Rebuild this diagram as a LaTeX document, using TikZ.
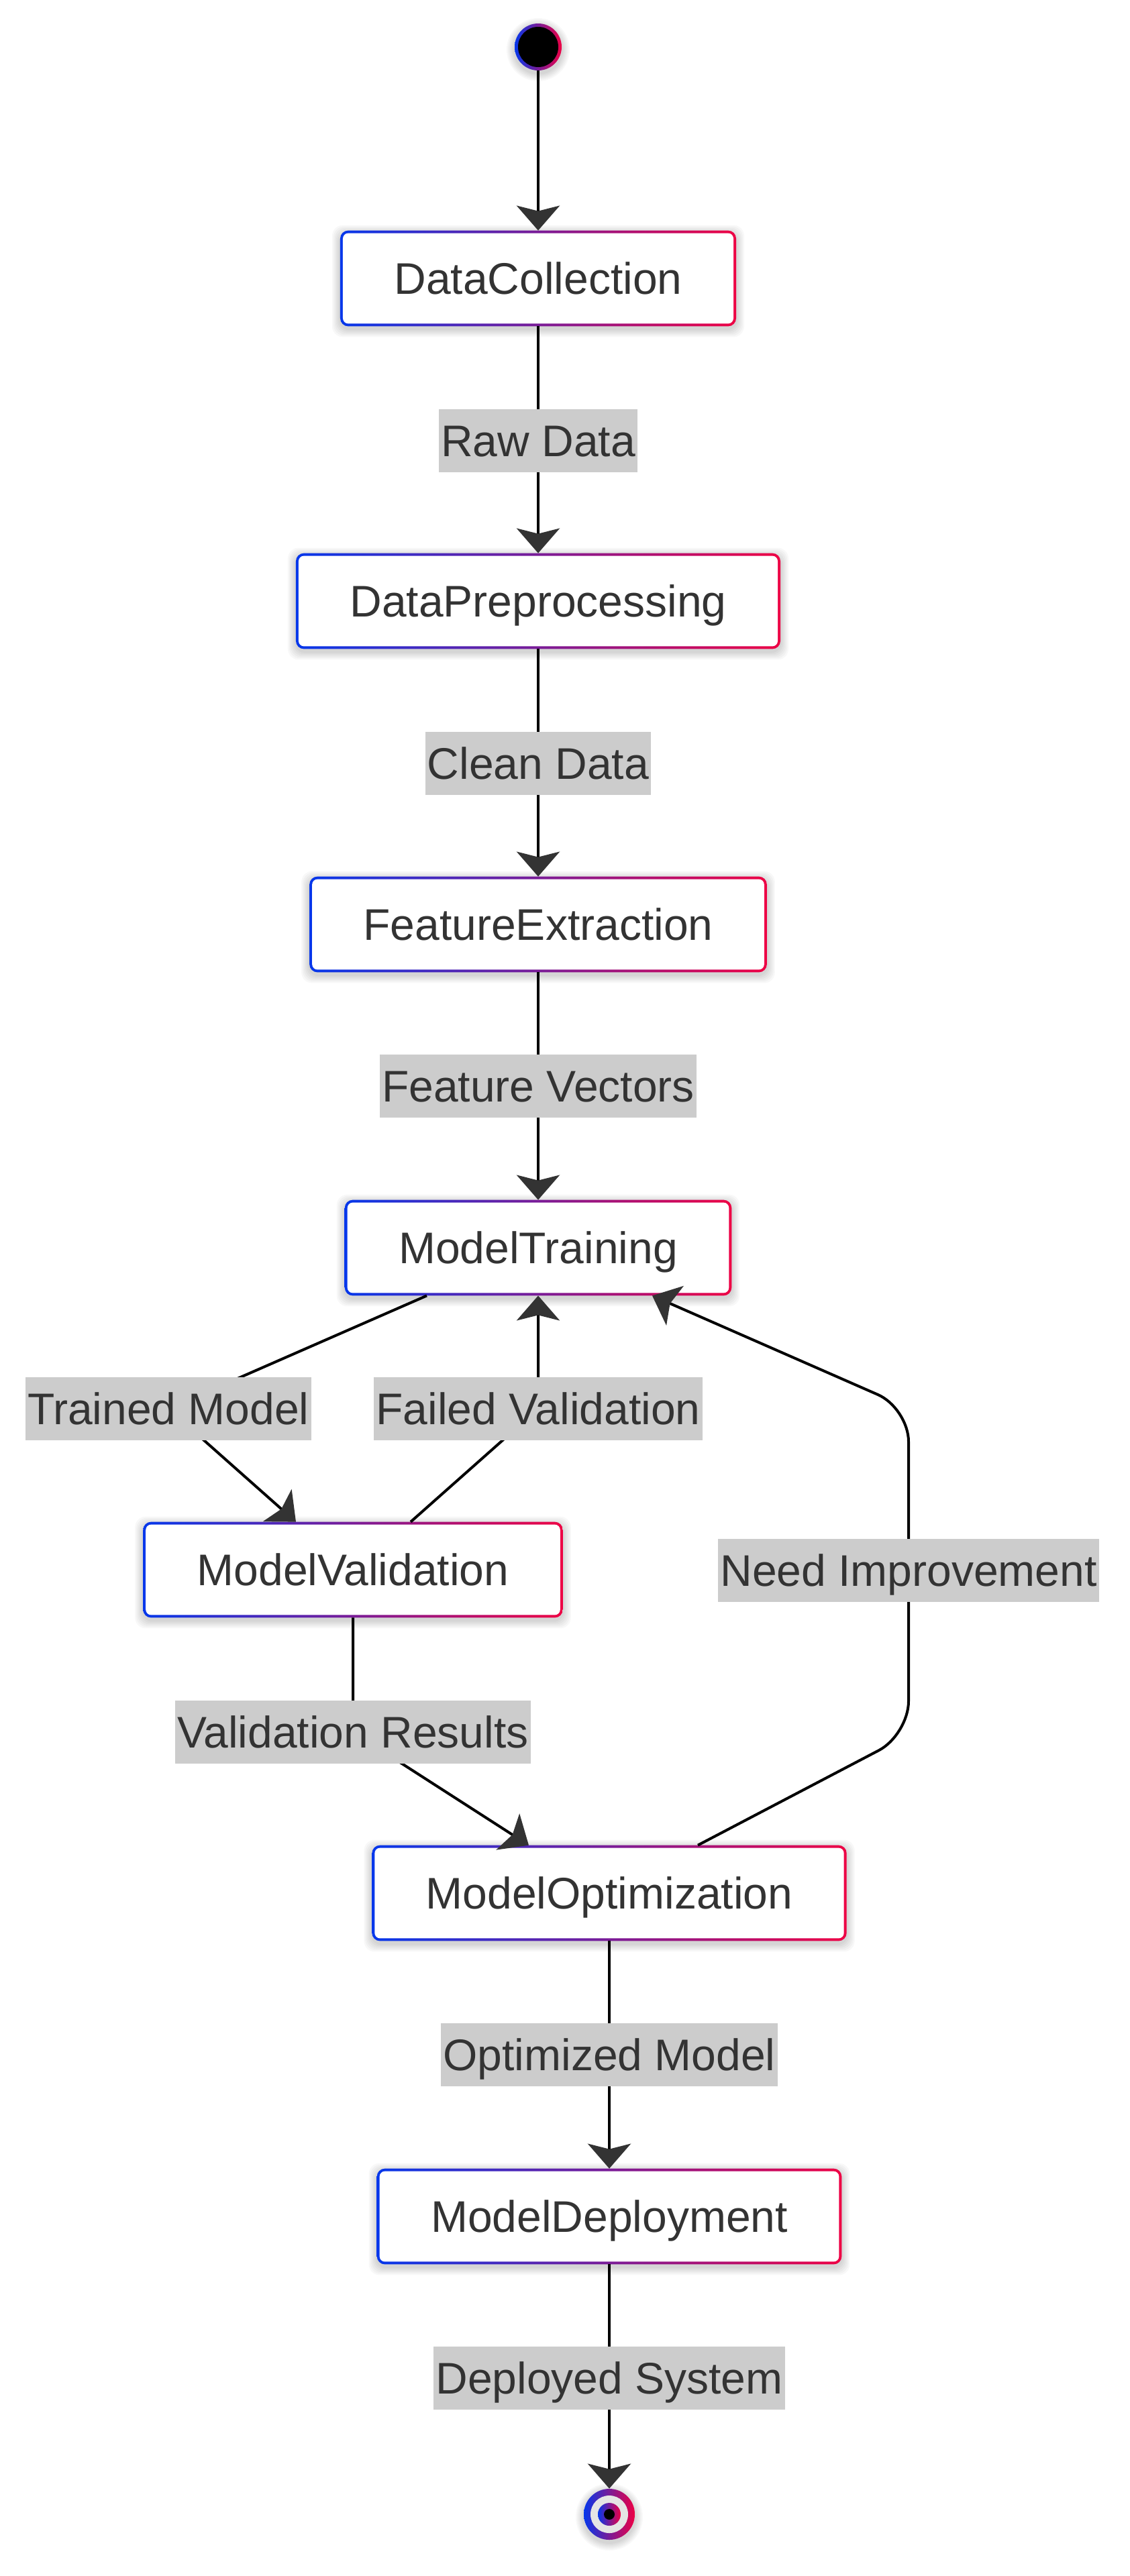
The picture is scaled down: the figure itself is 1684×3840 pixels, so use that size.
\documentclass[tikz,border=0pt]{standalone}
\usepackage{fontspec}
\setmainfont{Liberation Sans}
\usetikzlibrary{arrows.meta}
\pgfdeclarelayer{pagebg}
\pgfdeclarelayer{deco}
\pgfdeclarelayer{edges}
\pgfsetlayers{pagebg,deco,edges,main}
\definecolor{gA}{RGB}{5,55,235}
\definecolor{gB}{RGB}{238,0,68}
\definecolor{txt}{RGB}{51,51,51}
\definecolor{lblbg}{RGB}{204,204,204}
\definecolor{ringgray}{RGB}{229,229,229}
\definecolor{arrowc}{RGB}{51,51,51}
\newcommand{\mygradbox}[1]{%
  \foreach \k in {1,...,6}{%
    \fill[black,opacity=0.028,rounded corners=8pt]
      ([shift={(-\k*1pt,\k*1pt-2pt)}]#1.north west) rectangle ([shift={(\k*1pt,-\k*1pt-2pt)}]#1.south east);
  }
  \shade[left color=gA,right color=gB,rounded corners=6pt]
    (#1.north west) rectangle (#1.south east);
  \fill[white,rounded corners=4pt] ([shift={(2pt,-2pt)}]#1.north west) rectangle ([shift={(-2pt,2pt)}]#1.south east);
}
\newcommand{\mycircshadow}[2]{%
  \foreach \k in {1,...,6}{%
    \fill[black,opacity=0.028] ([yshift=-2pt]#1.center) circle [radius=#2+\k*1pt];
  }
}
\begin{document}
\begin{tikzpicture}[x=0.5pt,y=-0.5pt,
  stbox/.style={shape=rectangle,inner xsep=40pt,inner ysep=0pt,minimum height=71pt,
    text height=23.6pt,text depth=0pt,text=txt,font=\fontsize{33pt}{40pt}\selectfont},
  elabel/.style={shape=rectangle,fill=lblbg,inner xsep=1.5pt,inner ysep=11.7pt,
    text height=23.6pt,text depth=0pt,text=txt,font=\fontsize{33pt}{40pt}\selectfont},
  flow/.style={draw=black,line width=2pt,-{Stealth[length=18.5pt,width=32pt,inset=4pt,color=arrowc]}},
  endpt/.style={shape=circle,inner sep=0pt}
]
\useasboundingbox (0,0) rectangle (1684,3840);
\begin{pgfonlayer}{pagebg}
  \fill[white] (0,0) rectangle (1684,3840);
\end{pgfonlayer}

% state nodes
\node[endpt,minimum size=35pt] (start) at (802,70) {};
\node[stbox] (dc) at (802,415) {DataCollection};
\node[stbox] (dp) at (802,896) {DataPreprocessing};
\node[stbox] (fe) at (802,1378) {FeatureExtraction};
\node[stbox] (mt) at (802,1860) {ModelTraining};
\node[stbox] (mv) at (526,2340) {ModelValidation};
\node[stbox] (mo) at (908,2822) {ModelOptimization};
\node[stbox] (md) at (908,3304) {ModelDeployment};
\node[endpt,minimum size=38pt] (end) at (908,3748) {};

% edge labels
\node[elabel] (l1) at (802,657) {Raw Data};
\node[elabel] (l2) at (802,1138) {Clean Data};
\node[elabel] (l3) at (802,1619) {Feature Vectors};
\node[elabel] (l4) at (251,2100) {Trained Model};
\node[elabel] (l5) at (802,2100) {Failed Validation};
\node[elabel] (l6) at (1354,2341) {Need Improvement};
\node[elabel] (l7) at (526,2582) {Validation Results};
\node[elabel] (l8) at (908,3063) {Optimized Model};
\node[elabel] (l9) at (908,3545) {Deployed System};

\coordinate (c1) at (1354,2586);
\coordinate (c2) at (1354,2099);

% decorations
\begin{pgfonlayer}{deco}
  \foreach \n in {dc,dp,fe,mt,mv,mo,md}{\mygradbox{\n}}
  \mycircshadow{start}{17.5pt}
  \shade[left color=gA,right color=gB] (start.center) circle (17.5pt);
  \fill[black] (start.center) circle (15pt);
  \mycircshadow{end}{19pt}
  \shade[left color=gA,right color=gB] (end.center) circle (19pt);
  \fill[ringgray] (end.center) circle (14pt);
  \shade[left color=gA,right color=gB] (end.center) circle (8.5pt);
  \fill[black] (end.center) circle (4pt);
\end{pgfonlayer}

% connectors
\begin{pgfonlayer}{edges}
  \draw[flow] (start) -- (dc);
  \draw[flow] (dc) -- (l1.center) -- (dp);
  \draw[flow] (dp) -- (l2.center) -- (fe);
  \draw[flow] (fe) -- (l3.center) -- (mt);
  \draw[flow] ([xshift=-83pt]mt.south) -- (l4.center) -- ([xshift=-42.5pt]mv.north);
  \draw[flow] ([xshift=43pt]mv.north) -- (l5.center) -- (mt.south);
  \draw[flow] (mv.south) -- (l7.center) -- ([xshift=-60pt]mo.north);
  \draw[flow,rounded corners=25pt] ([xshift=66pt]mo.north) -- (c1) -- (l6.center) -- (c2) -- ([xshift=85pt]mt.south);
  \draw[flow] (mo) -- (l8.center) -- (md);
  \draw[flow] (md) -- (l9.center) -- (end);
\end{pgfonlayer}
\end{tikzpicture}
\end{document}
